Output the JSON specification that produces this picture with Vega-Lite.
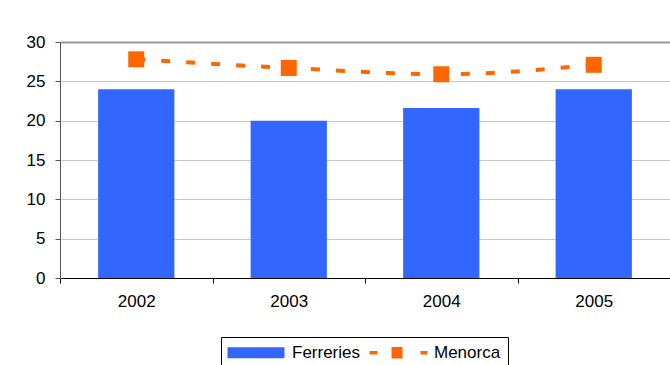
{
  "$schema": "https://vega.github.io/schema/vega-lite/v6.json",
  "width": 610,
  "height": 236,
  "autosize": {"type": "none"},
  "padding": {"left": 60, "top": 42, "right": 0, "bottom": 87},
  "background": "white",
  "config": {
    "font": "Liberation Sans",
    "view": {"stroke": null},
    "axis": {"labelFont": "Liberation Sans", "labelFontSize": 17, "labelColor": "black", "title": null}
  },
  "data": {
    "values": [
      {"year": "2002", "series": "Ferreries", "value": 24},
      {"year": "2003", "series": "Ferreries", "value": 20},
      {"year": "2004", "series": "Ferreries", "value": 21.6},
      {"year": "2005", "series": "Ferreries", "value": 24},
      {"year": "2002", "series": "Menorca", "value": 27.8},
      {"year": "2003", "series": "Menorca", "value": 26.7},
      {"year": "2004", "series": "Menorca", "value": 25.9},
      {"year": "2005", "series": "Menorca", "value": 27.1}
    ]
  },
  "encoding": {
    "x": {
      "field": "year", "type": "ordinal",
      "scale": {"paddingInner": 0.5, "paddingOuter": 0.25},
      "axis": {
        "labelAngle": 0, "labelPadding": 10, "tickSize": 5, "bandPosition": 0,
        "tickOffset": -38.125, "labelOffset": 38.125,
        "domainColor": "#000000", "tickColor": "#000000", "grid": false
      }
    },
    "y": {
      "field": "value", "type": "quantitative",
      "scale": {"domain": [0, 30], "nice": false, "zero": true},
      "axis": {
        "values": [0, 5, 10, 15, 20, 25, 30],
        "tickSize": 5, "labelPadding": 10,
        "domainColor": "#555555", "tickColor": "#555555",
        "grid": true,
        "gridColor": {"condition": {"test": "datum.value === 30", "value": "#999999"}, "value": "#c8c8c8"},
        "gridWidth": {"condition": {"test": "datum.value === 30", "value": 2}, "value": 1}
      }
    },
    "color": {
      "field": "series", "type": "nominal",
      "scale": {"domain": ["Ferreries", "Menorca"], "range": ["#3366FF", "#FF6600"]},
      "legend": {
        "orient": "none", "legendX": 161, "legendY": 295,
        "direction": "horizontal", "title": null,
        "strokeColor": "#000000", "padding": 7,
        "labelFont": "Liberation Sans", "labelFontSize": 17, "labelColor": "black",
        "labelOffset": 47, "columnPadding": 8,
        "symbolSize": 100, "symbolStrokeWidth": 0,
        "encode": {
          "symbols": {
            "update": {
              "shape": {"signal": "datum.value === 'Ferreries' ? 'M-1.8,-1.1H9.6V1.1H-1.8Z' : 'M-1.8,-0.35H-0.2V0.35H-1.8Z M2.6,-1.15H4.8V1.15H2.6Z M8.4,-0.35H9.8V0.35H8.4Z'"},
              "fill": {"signal": "datum.value === 'Ferreries' ? '#3366FF' : '#FF6600'"},
              "strokeWidth": {"value": 0},
              "opacity": {"value": 1}
            }
          }
        }
      }
    }
  },
  "layer": [
    {
      "transform": [{"filter": "datum.series === 'Ferreries'"}],
      "mark": {"type": "bar"}
    },
    {
      "transform": [{"filter": "datum.series === 'Menorca'"}],
      "mark": {"type": "line", "strokeWidth": 4, "strokeDash": [9, 16], "strokeCap": "butt", "interpolate": "monotone"}
    },
    {
      "transform": [{"filter": "datum.series === 'Menorca'"}],
      "mark": {"type": "point", "shape": "square", "filled": true, "size": 256, "opacity": 1}
    }
  ]
}
